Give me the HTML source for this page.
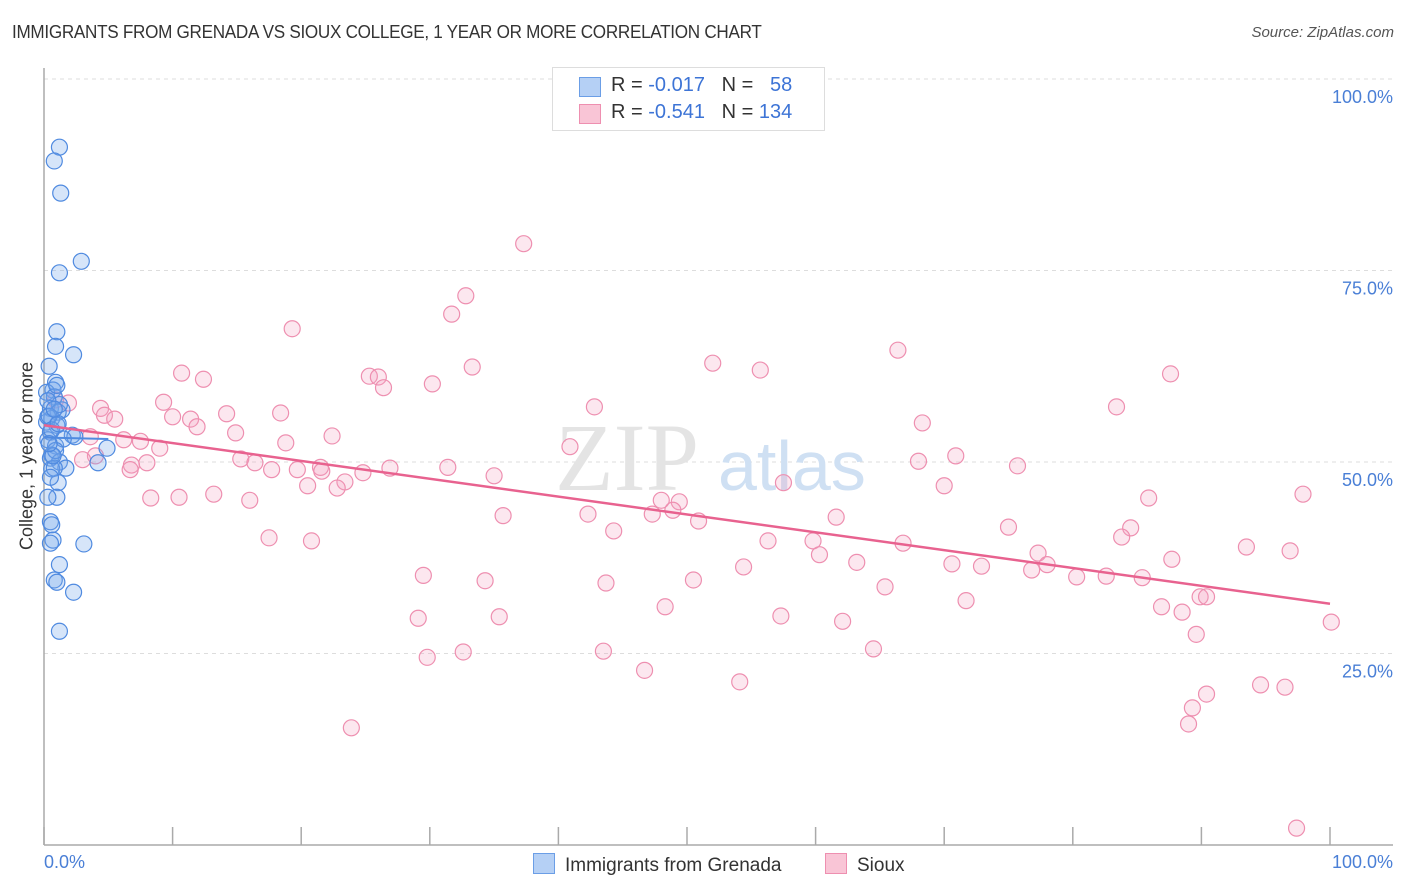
<!DOCTYPE html>
<html><head><meta charset="utf-8"><style>
body{margin:0;background:#fff;font-family:"Liberation Sans",sans-serif;}
#wrap{position:relative;width:1406px;height:892px;overflow:hidden;}
.t{position:absolute;white-space:nowrap;}
</style></head><body>
<div id="wrap">
<div class="t" style="left:12px;top:22px;font-size:18px;color:#333;letter-spacing:-0.3px;transform:scaleX(0.95);transform-origin:left;">IMMIGRANTS FROM GRENADA VS SIOUX COLLEGE, 1 YEAR OR MORE CORRELATION CHART</div>
<div class="t" style="right:12px;top:24px;font-size:15px;color:#555;font-style:italic;">Source: ZipAtlas.com</div>
<svg id="svg" width="1406" height="892" style="position:absolute;left:0;top:0"></svg>
</div>
<script>
const blueX=[1.2,0.8,1.3,2.9,1.2,1.0,0.9,2.3,0.4,0.9,0.7,0.2,0.8,0.5,1.4,1.1,0.6,0.2,1.0,0.5,2.2,2.4,0.3,0.9,4.9,0.6,0.5,1.2,4.2,1.7,1.1,1.0,0.3,0.5,0.6,0.7,0.5,3.1,1.2,0.8,1.0,2.3,1.2,0.3,1.2,0.6,0.8,0.4,1.5,0.9,0.3,0.6,1.0,0.7,0.4,0.5,1.1,0.8];
const blueY=[91.1,89.3,85.1,76.2,74.7,67.0,65.1,64.0,62.5,60.4,59.4,59.1,58.5,57.0,56.8,56.5,55.7,55.2,54.8,53.9,53.5,53.3,52.9,52.1,51.8,50.9,50.5,50.0,49.9,49.2,47.3,45.4,45.4,42.2,41.8,39.8,39.4,39.3,36.6,34.6,34.3,33.0,27.9,55.9,57.5,49.1,49.2,56.0,53.0,51.5,58.0,54.2,60.0,50.8,52.4,48.0,55.0,56.9];
const pinkX=[37.3,32.8,31.7,19.3,66.4,52.0,33.3,55.7,10.7,25.3,26.0,12.4,30.2,26.4,87.6,9.3,0.9,1.9,4.4,42.8,83.4,4.7,14.2,18.4,10.0,5.5,11.4,11.9,68.3,14.9,22.4,3.6,6.2,7.5,18.8,9.0,40.9,4.0,15.3,68.0,70.9,75.7,16.4,3.0,8.0,6.8,6.7,17.7,19.7,21.5,21.6,26.9,31.4,35.0,24.8,20.5,23.4,22.8,57.5,70.0,8.3,10.5,13.2,16.0,48.0,49.4,85.9,97.9,35.7,42.3,47.3,48.9,50.9,61.6,75.0,84.5,44.3,83.8,17.5,20.8,56.3,59.8,66.8,77.3,93.5,96.9,87.7,60.3,63.2,70.6,72.9,54.4,78.0,76.8,29.5,34.3,43.7,50.5,80.3,82.6,85.4,65.4,89.9,90.4,71.7,86.9,88.5,48.3,29.1,35.4,57.3,62.1,100.1,89.6,43.5,29.8,32.6,64.5,46.7,54.1,94.6,96.5,90.4,89.3,89.0,23.9,97.4];
const pinkY=[78.5,71.7,69.3,67.4,64.6,62.9,62.4,62.0,61.6,61.2,61.1,60.8,60.2,59.7,61.5,57.8,58.1,57.7,57.0,57.2,57.2,56.1,56.3,56.4,55.9,55.6,55.6,54.6,55.1,53.8,53.4,53.3,52.9,52.7,52.5,51.8,52.0,50.8,50.4,50.1,50.8,49.5,49.9,50.3,49.9,49.6,49.0,49.0,49.0,49.3,48.8,49.2,49.3,48.2,48.6,46.9,47.4,46.6,47.3,46.9,45.3,45.4,45.8,45.0,45.0,44.8,45.3,45.8,43.0,43.2,43.2,43.7,42.3,42.8,41.5,41.4,41.0,40.2,40.1,39.7,39.7,39.7,39.4,38.1,38.9,38.4,37.3,37.9,36.9,36.7,36.4,36.3,36.6,35.9,35.2,34.5,34.2,34.6,35.0,35.1,34.9,33.7,32.4,32.4,31.9,31.1,30.4,31.1,29.6,29.8,29.9,29.2,29.1,27.5,25.3,24.5,25.2,25.6,22.8,21.3,20.9,20.6,19.7,17.9,15.8,15.3,2.2];
const pinkTrend=[54.8,31.5];
const blueTrend=[53.2,53.0];
const yTicks=[100,75,50,25];
const yTickLabels=["100.0%","75.0%","50.0%","25.0%"];

const NS="http://www.w3.org/2000/svg";
const svg=document.getElementById('svg');
const X0=44,X1=1330,Y0=845,Y100=79;
const sx=v=>X0+(X1-X0)*v/100;
const sy=v=>Y0-(Y0-Y100)*v/100;
function mk(tag,attrs,parent){const e=document.createElementNS(NS,tag);for(const k in attrs)e.setAttribute(k,attrs[k]);(parent||svg).appendChild(e);return e;}

yTicks.forEach((v,i)=>{
  const g=mk('line',{x1:X0,x2:1393,y1:sy(v),y2:sy(v),stroke:'#ddd','stroke-dasharray':'4,4'});
  
  
  const t=mk('text',{x:1393,y:sy(v)+24,'text-anchor':'end','font-size':18,fill:'#4a7fd6','font-family':'Liberation Sans'});
  t.textContent=yTickLabels[i];
  
  
});
// watermark
const wm=mk('text',{x:555,y:490,'font-size':96,fill:'#e4e4e4','font-family':'Liberation Serif'});
wm.textContent='ZIP';


const wm2=mk('text',{x:718,y:490,'font-size':70,fill:'#cfe0f3','font-family':'Liberation Sans'});
wm2.textContent='atlas';


// axes
const ya=mk('line',{x1:X0,x2:X0,y1:68,y2:Y0,stroke:'#aaa','stroke-width':1.5});


const xa=mk('line',{x1:X0,x2:1393,y1:Y0,y2:Y0,stroke:'#aaa','stroke-width':1.5});


for(let i=0;i<=10;i++){
  const tk=mk('line',{x1:sx(i*10),x2:sx(i*10),y1:Y0-18,y2:Y0,stroke:'#aaa','stroke-width':1.5});
  
  
}
pinkX.forEach((x,i)=>{
  const c=mk('circle',{cx:sx(x),cy:sy(pinkY[i]),r:8,fill:'rgba(244,160,190,0.25)',stroke:'#ee8fb0','stroke-width':1.2});
  
  
});
blueX.forEach((x,i)=>{
  const c=mk('circle',{cx:sx(x),cy:sy(blueY[i]),r:8,fill:'rgba(120,170,235,0.3)',stroke:'#4f8ae0','stroke-width':1.2});
  
  
});
const pl=mk('line',{x1:sx(0),y1:sy(pinkTrend[0]),x2:sx(100),y2:sy(pinkTrend[1]),stroke:'#e8628f','stroke-width':2.5});


const bl=mk('line',{x1:sx(0),y1:sy(blueTrend[0]),x2:sx(5),y2:sy(blueTrend[1]),stroke:'#4f8ae0','stroke-width':2});


</script>
<div class="t" style="left:44px;top:852px;font-size:18px;color:#4a7fd6;">0.0%</div>
<div class="t" style="right:13px;top:852px;font-size:18px;color:#4a7fd6;">100.0%</div>
<div class="t" style="left:27px;top:456px;font-size:18px;color:#333;transform:translate(-50%,-50%) rotate(-90deg);">College, 1 year or more</div>
<div style="position:absolute;left:552px;top:67px;width:271px;height:62px;border:1px solid #ddd;background:#fff;font-size:20px;color:#333;">
 <div style="position:absolute;left:26px;top:9px;width:20px;height:18px;background:#b5d0f5;border:1px solid #6b9ee6;"></div>
 <div class="t" style="left:58px;top:6px;">R = <span style="color:#3d74d6">-0.017</span>&nbsp;&nbsp;&nbsp;N = &nbsp;&nbsp;<span style="color:#3d74d6">58</span></div>
 <div style="position:absolute;left:26px;top:36px;width:20px;height:18px;background:#f9c5d6;border:1px solid #ee8fb0;"></div>
 <div class="t" style="left:58px;top:33px;">R = <span style="color:#3d74d6">-0.541</span>&nbsp;&nbsp;&nbsp;N = <span style="color:#3d74d6">134</span></div>
</div>
<div style="position:absolute;left:533px;top:853px;font-size:19px;color:#333;">
 <span style="display:inline-block;width:20px;height:19px;background:#b5d0f5;border:1px solid #6b9ee6;vertical-align:-3px;margin-right:10px;"></span>Immigrants from Grenada</div>
<div style="position:absolute;left:825px;top:853px;font-size:19px;color:#333;">
 <span style="display:inline-block;width:20px;height:19px;background:#f9c5d6;border:1px solid #ee8fb0;vertical-align:-3px;margin-right:10px;"></span>Sioux</div>
</body></html>
